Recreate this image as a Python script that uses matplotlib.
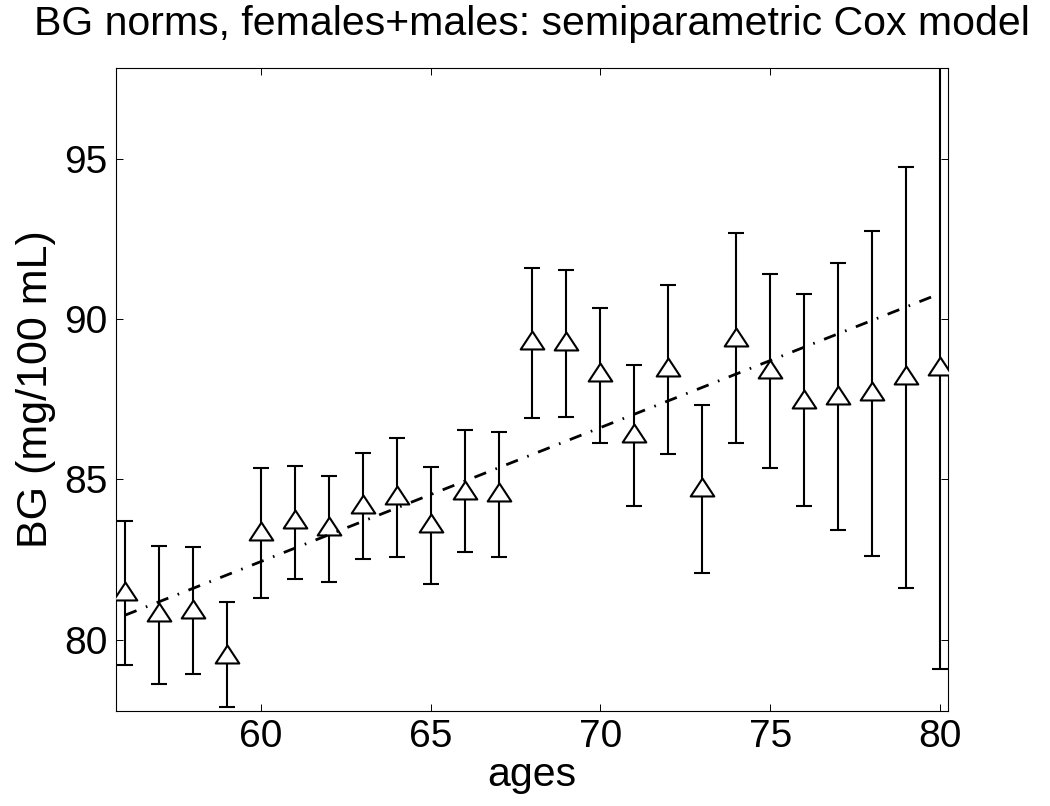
import numpy as np
import matplotlib.pyplot as plt
from matplotlib.path import Path

plt.rcParams['font.family'] = ['Liberation Sans', 'DejaVu Sans']

# Age groups and BG estimates (mg/100 mL) with interval bounds
ages = np.arange(56, 81)
bg_est = [81.52, 80.86, 80.97, 79.56, 83.40, 83.75, 83.53, 84.24, 84.51, 83.64,
          84.68, 84.62, 89.34, 89.33, 88.34, 86.46, 88.50, 84.75, 89.44, 88.45,
          87.52, 87.64, 87.76, 88.25, 88.53]
bg_upper = [83.71, 82.93, 82.88, 81.18, 85.34, 85.42, 85.10, 85.81, 86.30, 85.39,
            86.54, 86.49, 91.59, 91.53, 90.36, 88.57, 91.06, 87.32, 92.70, 91.40,
            90.77, 91.76, 92.76, 94.76, 97.99]
bg_lower = [79.22, 78.61, 78.94, 77.90, 81.30, 81.88, 81.79, 82.53, 82.58, 81.75,
            82.72, 82.58, 86.90, 86.95, 86.15, 84.18, 85.78, 82.07, 86.14, 85.37,
            84.17, 83.42, 82.62, 81.62, 79.07]

# linear trend (end points)
trend_ages = [56, 80]
trend_bg = [80.76, 90.80]

xticks = [60, 65, 70, 75, 80]
yticks = [80, 85, 90, 95]

bg_est = np.array(bg_est)
yerr = [bg_est - np.array(bg_lower), np.array(bg_upper) - bg_est]

# squat MATLAB-like triangle
tri = Path([(-1, -0.76), (1, -0.76), (0, 0.76), (-1, -0.76)],
           [Path.MOVETO, Path.LINETO, Path.LINETO, Path.CLOSEPOLY])

fig = plt.figure(figsize=(10.5, 8.06), dpi=100)
ax = fig.add_axes([0.1102, 0.1182, 0.7929, 0.7971])

ax.errorbar(ages, bg_est, yerr=yerr, fmt='none', ecolor='black',
            elinewidth=1.5, capsize=6, capthick=1.5, zorder=2)
ax.plot(ages, bg_est, linestyle='none', marker=tri, markersize=17,
        markerfacecolor='white', markeredgecolor='black',
        markeredgewidth=1.5, zorder=3)
ax.plot(trend_ages, trend_bg, color='black', linewidth=2,
        dashes=(4.5, 3.6, 0.6, 3.6), zorder=4)

ax.set_xlim(55.73, 80.24)
ax.set_ylim(77.78, 97.83)
ax.set_xticks(xticks)
ax.set_yticks(yticks)
ax.tick_params(direction='in', length=5, width=0.7, labelsize=28,
               top=True, right=True, pad=6)
for s in ax.spines.values():
    s.set_linewidth(0.8)

ax.set_title('BG norms, females+males: semiparametric Cox model',
             fontsize=29.5, pad=24)
ax.set_xlabel('ages', fontsize=29.5, labelpad=1)
ax.set_ylabel('BG (mg/100 mL)', fontsize=31, labelpad=6)

fig.savefig('out.png', dpi=100)
